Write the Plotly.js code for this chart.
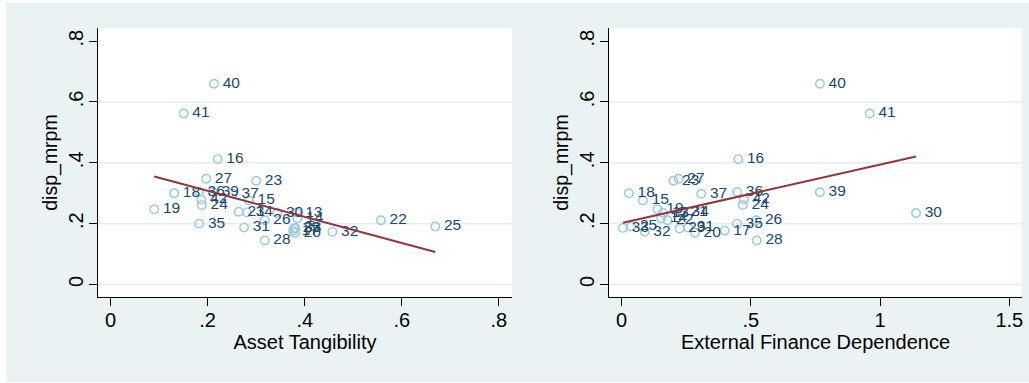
<!DOCTYPE html>
<html>
<head>
<meta charset="utf-8">
<script src="https://cdn.plot.ly/plotly-3.0.1.min.js"></script>
<style>
html,body{margin:0;padding:0;background:#ffffff;width:1029px;height:383px;overflow:hidden;}
#chart{position:absolute;left:6px;top:3px;width:1023px;height:379px;}
</style>
</head>
<body>
<div id="chart"></div>
<script>
// industry codes
const industries = ['13','14','15','16','17','18','19','20','21','22','23','24','25','26','27','28','29','30','31','32','33','34','35','36','37','39','40','41','42'];
// dispersion of MRPM (y, shared by both panels)
const dispMrpm = [0.236,0.218,0.276,0.412,0.177,0.300,0.247,0.170,0.239,0.211,0.341,0.261,0.191,0.211,0.3475,0.145,0.184,0.235,0.187,0.173,0.186,0.237,0.200,0.304,0.298,0.303,0.660,0.562,0.279];
// asset tangibility (x, left panel)
const assetTangibility = [0.383,0.385,0.285,0.2206,0.376,0.131,0.090,0.380,0.264,0.557,0.300,0.188,0.669,0.3175,0.197,0.3175,0.378,0.3435,0.275,0.457,0.381,0.281,0.1827,0.182,0.252,0.211,0.213,0.1505,0.187];
// external finance dependence (x, right panel)
const extFinance = [0.160,0.153,0.0825,0.451,0.3985,0.028,0.139,0.2835,0.232,0.178,0.200,0.469,0.037,0.521,0.2205,0.5225,0.224,1.139,0.257,0.089,0.005,0.237,0.446,0.447,0.308,0.767,0.767,0.960,0.4735];
// fitted lines (end points)
const fitTangX = [0.090, 0.669];
const fitTangY = [0.355, 0.107];
const fitExtX = [0.005, 1.139];
const fitExtY = [0.203, 0.4207];
// axis ticks
const yTicks = [0, 0.2, 0.4, 0.6, 0.8];
const yTickText = ['0', '.2', '.4', '.6', '.8'];
const yGrid = [0, 0.2, 0.4, 0.6];
const xTicksL = [0, 0.2, 0.4, 0.6, 0.8];
const xTickTextL = ['0', '.2', '.4', '.6', '.8'];
const xTicksR = [0, 0.5, 1, 1.5];
const xTickTextR = ['0', '.5', '1', '1.5'];

const FONT = 'Liberation Sans, Arial, Helvetica, sans-serif';
const markerColor = 'rgb(150,202,222)';
const labelColor = '#1a476f';
const lineColor = '#90353b';

function panel(xs, fx, fy, xa, ya) {
  return [
    {x: xs, y: dispMrpm, xaxis: xa, yaxis: ya, type: 'scatter', mode: 'markers',
     marker: {symbol: 'circle-open', size: 8.5, color: markerColor, line: {width: 1.4, color: markerColor}},
     hoverinfo: 'skip', showlegend: false},
    {x: xs, y: dispMrpm, xaxis: xa, yaxis: ya, type: 'scatter', mode: 'markers+text',
     text: industries, textposition: 'middle right',
     textfont: {family: FONT, size: 15.5, color: labelColor},
     marker: {size: 12.3, color: 'rgba(0,0,0,0)'},
     hoverinfo: 'skip', showlegend: false},
    {x: fx, y: fy, xaxis: xa, yaxis: ya, type: 'scatter', mode: 'lines',
     line: {color: lineColor, width: 2}, hoverinfo: 'skip', showlegend: false}
  ];
}

const data = [].concat(
  panel(assetTangibility, fitTangX, fitTangY, 'x', 'y'),
  panel(extFinance, fitExtX, fitExtY, 'x2', 'y2')
);

const yDom = [0.2243, 0.9340];
const axisCommon = {
  showgrid: false, zeroline: false, showline: true, linecolor: '#000', linewidth: 1,
  ticks: 'outside', ticklen: 8, tickwidth: 1, tickcolor: '#000', mirror: false,
  tickfont: {family: FONT, size: 20, color: '#000'}
};
function yAxis(anchor) {
  return Object.assign({}, axisCommon, {
    domain: yDom, anchor: anchor, range: [-0.041, 0.843],
    tickmode: 'array', tickvals: yTicks, ticktext: yTickText, tickangle: -90,
    ticklabelstandoff: -2,
    title: {text: 'disp_mrpm', font: {family: FONT, size: 19.5, color: '#000'}, standoff: 2}
  });
}
function xAxis(anchor, dom, range, tv, tt, title) {
  return Object.assign({}, axisCommon, {
    domain: dom, anchor: anchor, range: range,
    tickmode: 'array', tickvals: tv, ticktext: tt,
    ticklabelstandoff: -3,
    title: {text: title, font: {family: FONT, size: 20, color: '#000'}, standoff: 0}
  });
}

const shapes = [];
yGrid.forEach(v => {
  ['x', 'x2'].forEach((xr, i) => {
    shapes.push({type: 'line', xref: xr + ' domain', yref: i === 0 ? 'y' : 'y2',
      x0: 0, x1: 1, y0: v, y1: v, layer: 'below',
      line: {color: '#e5edf0', width: 1.5}});
  });
});

const layout = {
  width: 1023, height: 379,
  margin: {l: 0, r: 0, t: 0, b: 0},
  paper_bgcolor: '#eaf2f3',
  plot_bgcolor: '#ffffff',
  showlegend: false,
  xaxis: xAxis('y', [0.0899, 0.4946], [-0.026, 0.827], xTicksL, xTickTextL, 'Asset Tangibility'),
  yaxis: yAxis('x'),
  xaxis2: xAxis('y2', [0.5897, 0.9929], [-0.048, 1.548], xTicksR, xTickTextR, 'External Finance Dependence'),
  yaxis2: yAxis('x2'),
  shapes: shapes
};

Plotly.newPlot('chart', data, layout, {displayModeBar: false, staticPlot: true});
</script>
</body>
</html>
